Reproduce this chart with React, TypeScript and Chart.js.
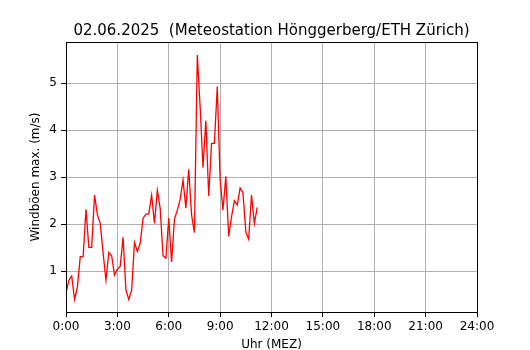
import React, { useEffect, useRef } from "react";
import { Chart, registerables } from "chart.js";

Chart.register(...registerables);

const TITLE = "02.06.2025  (Meteostation Hönggerberg/ETH Zürich)";
const X_LABEL = "Uhr (MEZ)";
const Y_LABEL = "Windböen max. (m/s)";

// 10-minute gust maxima starting at 0:00
const START_HOUR = 0;
const STEP_MINUTES = 10;
const gusts: number[] = [
  0.54, 0.81, 0.9, 0.4, 0.67, 1.31, 1.31, 2.32, 1.51, 1.51,
  2.62, 2.2, 2.02, 1.39, 0.81, 1.4, 1.33, 0.92, 1.04, 1.11,
  1.72, 0.6, 0.4, 0.6, 1.61, 1.42, 1.6, 2.13, 2.21, 2.22,
  2.62, 2.02, 2.72, 2.34, 1.33, 1.28, 2.13, 1.2, 2.11, 2.3,
  2.53, 2.94, 2.34, 3.17, 2.2, 1.82, 5.6, 4.5, 3.2, 4.2,
  2.6, 3.72, 3.72, 4.93, 2.96, 2.3, 3.02, 1.74, 2.16, 2.5,
  2.41, 2.77, 2.67, 1.84, 1.68, 2.62, 2.02, 2.36,
];

const xTicks: number[] = [0, 3, 6, 9, 12, 15, 18, 21, 24];
const yTicks: number[] = [1, 2, 3, 4, 5];

const FONT = "'DejaVu Sans', sans-serif";

export default function App() {
  const ref = useRef<HTMLCanvasElement | null>(null);

  useEffect(() => {
    if (!ref.current) return;
    const points = gusts.map((v, i) => ({
      x: START_HOUR + (i * STEP_MINUTES) / 60,
      y: v,
    }));

    const textPlugin = {
      id: "mplText",
      beforeDraw(chart: any) {
        const { ctx } = chart;
        ctx.save();
        ctx.fillStyle = "#ffffff";
        ctx.fillRect(0, 0, chart.width, chart.height);
        ctx.restore();
      },
      afterDraw(chart: any) {
        const { ctx, chartArea } = chart;
        const { left, right, top, bottom } = chartArea;
        ctx.save();
        ctx.strokeStyle = "#000";
        ctx.lineWidth = 1;
        ctx.strokeRect(left + 0.5, top + 0.5, right - left, bottom - top);
        ctx.fillStyle = "#000";
        ctx.textAlign = "center";
        ctx.font = `15px ${FONT}`;
        ctx.textBaseline = "alphabetic";
        ctx.fillText(TITLE, (left + right) / 2, 34.5);
        ctx.font = `12px ${FONT}`;
        ctx.textBaseline = "alphabetic";
        ctx.fillText(X_LABEL, (left + right) / 2, 348);
        ctx.translate(39, (top + bottom) / 2);
        ctx.rotate(-Math.PI / 2);
        ctx.fillText(Y_LABEL, 0, 0);
        ctx.restore();
      },
    };

    const chart = new Chart(ref.current, {
      type: "line",
      data: {
        datasets: [
          {
            data: points,
            borderColor: "#ff0000",
            borderWidth: 1.3,
            pointRadius: 0,
            tension: 0,
            fill: false,
          },
        ],
      },
      options: {
        animation: false,
        responsive: false,
        maintainAspectRatio: false,
        layout: { padding: { left: 0, top: 42, right: 53, bottom: 0 } },
        plugins: {
          legend: { display: false },
          title: { display: false },
          tooltip: { enabled: false },
        },
        scales: {
          x: {
            type: "linear",
            min: 0,
            max: 24,
            afterBuildTicks: (scale: any) => {
              scale.ticks = xTicks.map((v) => ({ value: v }));
            },
            afterFit: (scale: any) => {
              scale.height = 38;
            },
            ticks: {
              autoSkip: false,
              maxRotation: 0,
              padding: 3,
              color: "#000",
              font: { family: FONT, size: 12 },
              callback: (v: any) => `${v}:00`,
            },
            grid: {
              color: "#b0b0b0",
              lineWidth: 1,
              tickColor: "#000",
              tickLength: 5,
            },
            border: { display: true, color: "#000" },
          },
          y: {
            type: "linear",
            min: 0.134,
            max: 5.876,
            afterBuildTicks: (scale: any) => {
              scale.ticks = yTicks.map((v) => ({ value: v }));
            },
            afterFit: (scale: any) => {
              scale.width = 66;
            },
            ticks: {
              padding: 4,
              color: "#000",
              font: { family: FONT, size: 12 },
            },
            grid: {
              color: "#b0b0b0",
              lineWidth: 1,
              tickColor: "#000",
              tickLength: 5,
            },
            border: { display: true, color: "#000" },
          },
        },
      },
      plugins: [textPlugin],
    });
    return () => chart.destroy();
  }, []);

  return (
    <div style={{ position: "absolute", left: 0, top: 0, width: 530, height: 350 }}>
      <canvas ref={ref} width={530} height={350} />
    </div>
  );
}
